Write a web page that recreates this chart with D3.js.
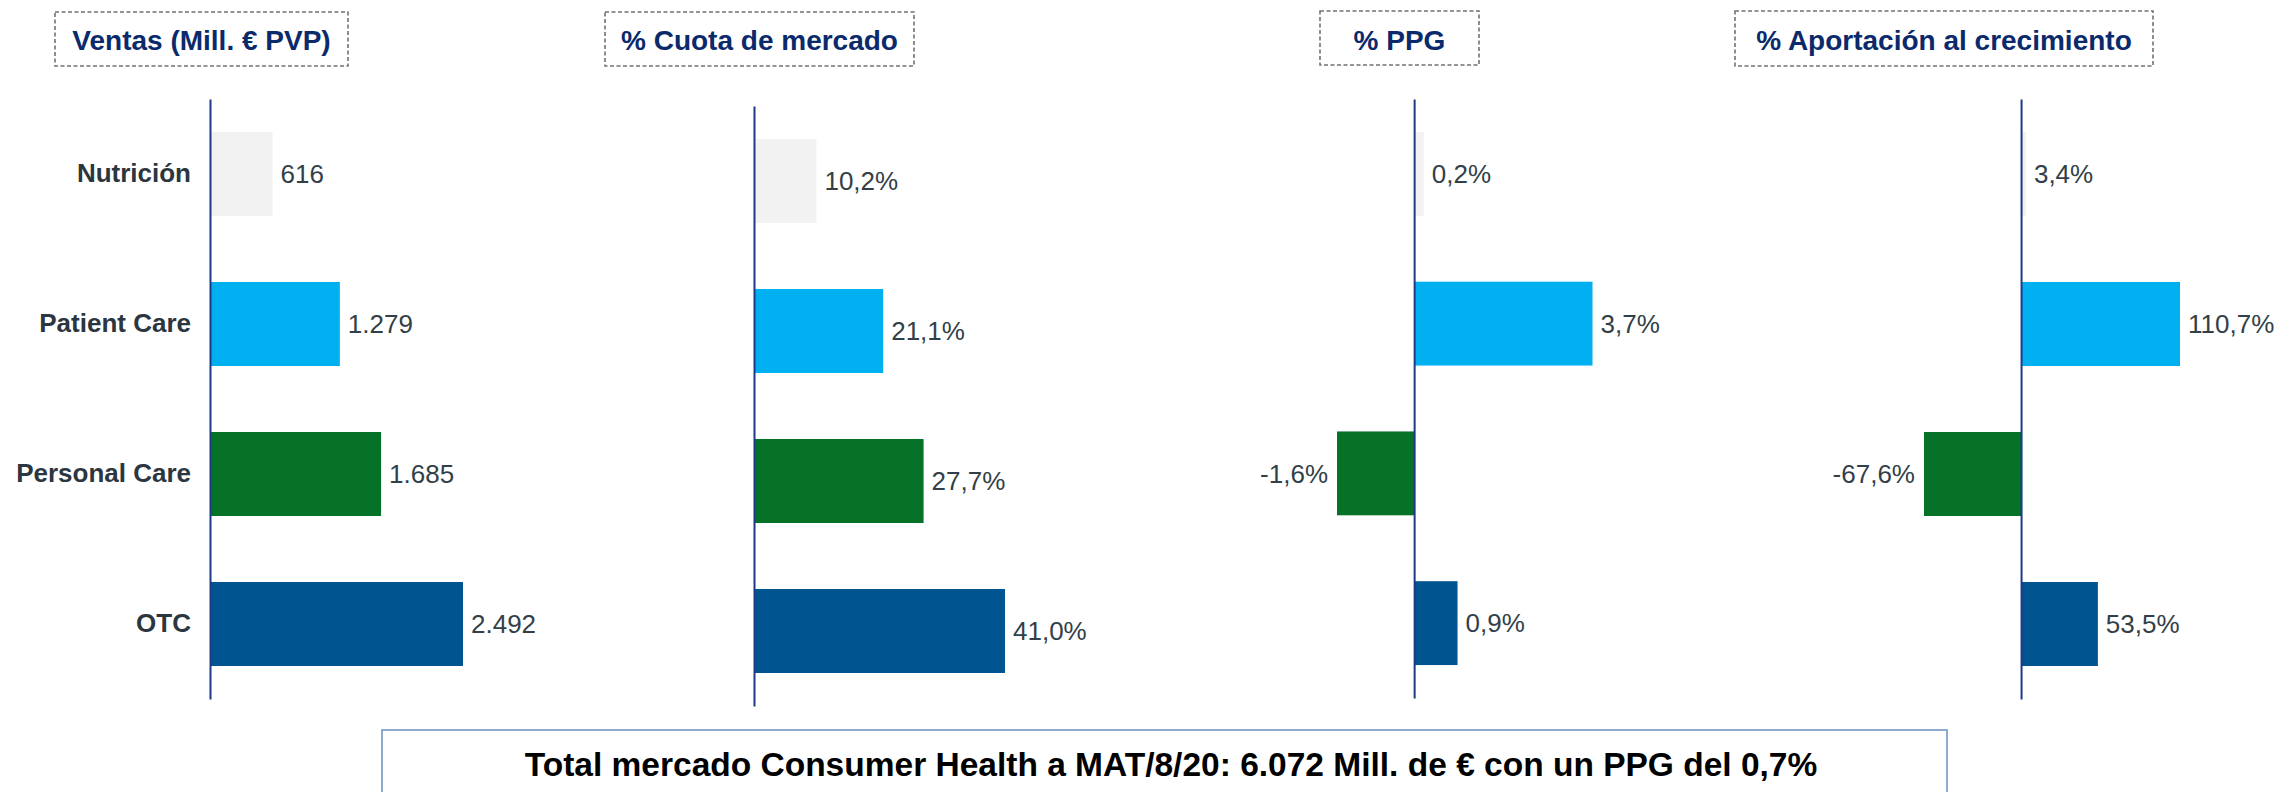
<!DOCTYPE html>
<html>
<head>
<meta charset="utf-8">
<script src="https://cdn.jsdelivr.net/npm/d3@7"></script>
<style>
  html, body { margin: 0; padding: 0; background: #ffffff; }
  svg { display: block; font-family: "Liberation Sans", Arial, Helvetica, sans-serif; }
</style>
</head>
<body>
<svg id="chart" width="2285" height="792"></svg>
<script>
// Categories (top to bottom) and their colours
const categories = ["Nutrición", "Patient Care", "Personal Care", "OTC"];
const categoryColors = ["#f2f2f2", "#00b0f0", "#057228", "#00548f"];

// Series values per panel
const ventas = [616, 1279, 1685, 2492];              // Mill. € PVP
const cuota = [10.2, 21.1, 27.7, 41.0];               // % cuota de mercado
const ppg = [0.2, 3.7, -1.6, 0.9];                    // % PPG
const aportacion = [3.4, 110.7, -67.6, 53.5];         // % aportación al crecimiento

// Panel titles and footer text
const panelTitles = ["Ventas (Mill. € PVP)", "% Cuota de mercado", "% PPG", "% Aportación al crecimiento"];
const footerText = "Total mercado Consumer Health a MAT/8/20: 6.072 Mill. de € con un PPG del 0,7%";

// Number formatting with Spanish separators and a plain hyphen for negatives
const esLocale = d3.formatLocale({ decimal: ",", thousands: ".", grouping: [3], currency: ["", " €"], minus: "-" });
const fmtInt = esLocale.format(",.0f");
const fmtPct = v => esLocale.format(".1f")(v) + "%";

const svg = d3.select("#chart");

// Layout of each panel: axis position, vertical extent, scale and title box
const panels = [
  { values: ventas, fmt: fmtInt, axisX: 210, top: 99, bottom: 699,
    domain: [0, 2492], span: [0, 253],
    box: [55, 12, 348, 66], showCategories: true },
  { values: cuota, fmt: fmtPct, axisX: 754, top: 106, bottom: 706,
    domain: [0, 41.0], span: [0, 251],
    box: [605, 12, 914, 66] },
  { values: ppg, fmt: fmtPct, axisX: 1415, top: 99, bottom: 698,
    domain: [-1.6, 3.7], span: [-78, 177.5],
    box: [1320, 11, 1479, 65] },
  { values: aportacion, fmt: fmtPct, axisX: 2020, top: 99, bottom: 699,
    domain: [-67.6, 110.7], span: [-96, 160],
    box: [1735, 11, 2153, 66] }
];

const labelColor = "#333f48";
const axisColor = "#1c3a87";
const titleColor = "#0b2a6b";

panels.forEach((p, i) => {
  const g = svg.append("g").attr("class", "panel panel-" + i);

  const y = d3.scaleBand()
    .domain(categories)
    .range([p.top, p.bottom])
    .paddingInner(0.44)
    .paddingOuter(0.22);

  const x = d3.scaleLinear()
    .domain(p.domain)
    .range([p.axisX + p.span[0], p.axisX + p.span[1]]);

  const rows = categories.map((c, k) => ({ cat: c, value: p.values[k], color: categoryColors[k] }));

  // Bars grow from the zero line
  g.selectAll("rect.bar")
    .data(rows)
    .join("rect")
    .attr("class", "bar")
    .attr("x", d => Math.min(x(0), x(d.value)))
    .attr("y", d => y(d.cat))
    .attr("width", d => Math.abs(x(d.value) - x(0)))
    .attr("height", y.bandwidth())
    .attr("fill", d => d.color);

  // Vertical category axis at zero
  const axis = d3.axisLeft(y).tickSize(0).tickSizeOuter(0).tickPadding(19);
  if (!p.showCategories) axis.tickFormat("");
  const ax = g.append("g")
    .attr("transform", `translate(${x(0)},0)`)
    .call(axis);
  ax.select(".domain").attr("stroke", axisColor).attr("stroke-width", 2);
  ax.selectAll(".tick text")
    .attr("fill", "#2b3640")
    .attr("font-size", 26)
    .attr("font-weight", "bold")
    .attr("font-family", "'Liberation Sans', Arial, sans-serif");

  // Value labels beside each bar
  g.selectAll("text.value")
    .data(rows)
    .join("text")
    .attr("class", "value")
    .attr("x", d => d.value >= 0 ? x(d.value) + 8 : x(d.value) - 9)
    .attr("y", d => y(d.cat) + y.bandwidth() / 2)
    .attr("dy", "0.36em")
    .attr("text-anchor", d => d.value >= 0 ? "start" : "end")
    .attr("fill", labelColor)
    .attr("font-size", 26)
    .text(d => p.fmt(d.value));

  // Dashed title box
  const [bx0, by0, bx1, by1] = p.box;
  g.append("rect")
    .attr("x", bx0).attr("y", by0)
    .attr("width", bx1 - bx0).attr("height", by1 - by0)
    .attr("fill", "none")
    .attr("stroke", "#6e7378")
    .attr("stroke-width", 1.6)
    .attr("stroke-dasharray", "4,2.5");
  g.append("text")
    .attr("x", (bx0 + bx1) / 2)
    .attr("y", 50)
    .attr("text-anchor", "middle")
    .attr("fill", titleColor)
    .attr("font-size", 28)
    .attr("font-weight", "bold")
    .text(panelTitles[i]);
});

// Footer summary box
const footer = svg.append("g").attr("class", "footer");
footer.append("rect")
  .attr("x", 382).attr("y", 730)
  .attr("width", 1947 - 382).attr("height", 100)
  .attr("fill", "#ffffff")
  .attr("stroke", "#6a8fbf")
  .attr("stroke-width", 1.5);
footer.append("text")
  .attr("x", 1171)
  .attr("y", 776)
  .attr("text-anchor", "middle")
  .attr("fill", "#000000")
  .attr("font-size", 33.5)
  .attr("font-weight", "bold")
  .text(footerText);
</script>
</body>
</html>
